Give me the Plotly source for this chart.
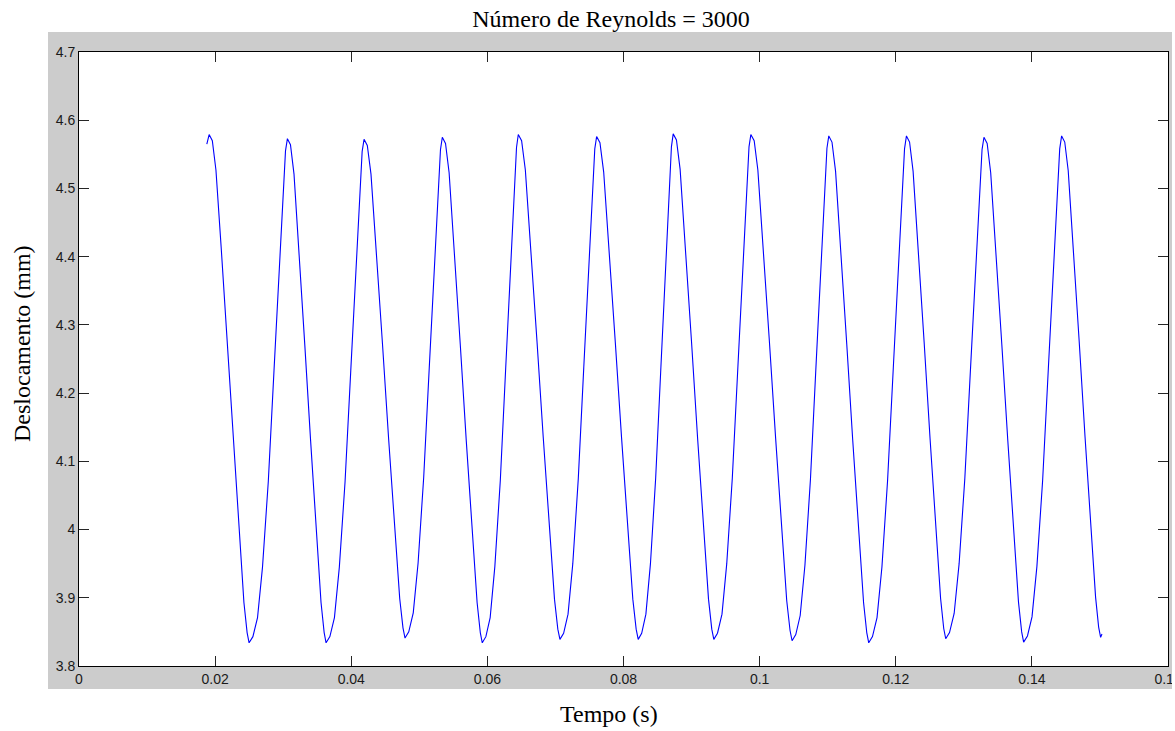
import plotly.graph_objects as go

# Time (s) and displacement (mm)
tempo = [
    0.01878, 0.01912,
    0.01959, 0.02012, 0.02088, 0.02176, 0.02264, 0.02352, 0.02423, 0.02470, 0.02499,
    0.02555, 0.02623, 0.02696, 0.02781, 0.02865, 0.02938, 0.02994, 0.03034, 0.03062,
    0.03107, 0.03159, 0.03232, 0.03318, 0.03403, 0.03488, 0.03556, 0.03602, 0.03630,
    0.03686, 0.03753, 0.03825, 0.03909, 0.03993, 0.04065, 0.04121, 0.04160, 0.04188,
    0.04236, 0.04290, 0.04369, 0.04459, 0.04549, 0.04640, 0.04712, 0.04760, 0.04790,
    0.04845, 0.04911, 0.04982, 0.05064, 0.05146, 0.05217, 0.05272, 0.05311, 0.05338,
    0.05385, 0.05438, 0.05514, 0.05602, 0.05690, 0.05778, 0.05849, 0.05896, 0.05925,
    0.05978, 0.06041, 0.06110, 0.06190, 0.06269, 0.06338, 0.06391, 0.06428, 0.06454,
    0.06503, 0.06558, 0.06638, 0.06729, 0.06821, 0.06913, 0.06986, 0.07035, 0.07066,
    0.07120, 0.07185, 0.07255, 0.07336, 0.07416, 0.07486, 0.07540, 0.07578, 0.07605,
    0.07654, 0.07709, 0.07788, 0.07880, 0.07972, 0.08063, 0.08137, 0.08186, 0.08216,
    0.08267, 0.08329, 0.08396, 0.08473, 0.08550, 0.08617, 0.08668, 0.08704, 0.08730,
    0.08778, 0.08832, 0.08909, 0.08999, 0.09088, 0.09178, 0.09249, 0.09297, 0.09327,
    0.09381, 0.09447, 0.09517, 0.09599, 0.09681, 0.09751, 0.09806, 0.09844, 0.09871,
    0.09920, 0.09974, 0.10053, 0.10144, 0.10235, 0.10326, 0.10398, 0.10447, 0.10477,
    0.10531, 0.10596, 0.10666, 0.10747, 0.10827, 0.10897, 0.10951, 0.10989, 0.11016,
    0.11063, 0.11116, 0.11192, 0.11280, 0.11368, 0.11456, 0.11527, 0.11574, 0.11603,
    0.11658, 0.11725, 0.11797, 0.11880, 0.11963, 0.12035, 0.12091, 0.12129, 0.12157,
    0.12203, 0.12255, 0.12330, 0.12417, 0.12503, 0.12590, 0.12659, 0.12705, 0.12734,
    0.12790, 0.12858, 0.12931, 0.13015, 0.13099, 0.13172, 0.13229, 0.13268, 0.13296,
    0.13343, 0.13395, 0.13471, 0.13558, 0.13646, 0.13733, 0.13803, 0.13850, 0.13879,
    0.13935, 0.14002, 0.14074, 0.14158, 0.14242, 0.14314, 0.14370, 0.14409, 0.14437,
    0.14483, 0.14534, 0.14609, 0.14695, 0.14781, 0.14867, 0.14936, 0.14981, 0.15010,
    0.15030,
]

deslocamento = [
    4.565, 4.579,
    4.570, 4.527, 4.415, 4.274, 4.132, 3.998, 3.893, 3.849, 3.834,
    3.843, 3.871, 3.945, 4.070, 4.233, 4.381, 4.492, 4.555, 4.573,
    4.564, 4.521, 4.410, 4.270, 4.130, 3.997, 3.893, 3.849, 3.834,
    3.843, 3.871, 3.945, 4.070, 4.233, 4.380, 4.491, 4.554, 4.572,
    4.563, 4.521, 4.411, 4.272, 4.133, 4.002, 3.899, 3.856, 3.841,
    3.850, 3.878, 3.951, 4.076, 4.237, 4.384, 4.494, 4.557, 4.575,
    4.566, 4.523, 4.412, 4.271, 4.130, 3.997, 3.893, 3.849, 3.834,
    3.843, 3.871, 3.946, 4.072, 4.236, 4.385, 4.497, 4.560, 4.579,
    4.570, 4.527, 4.416, 4.276, 4.135, 4.002, 3.898, 3.854, 3.839,
    3.848, 3.876, 3.950, 4.075, 4.237, 4.384, 4.495, 4.558, 4.576,
    4.567, 4.524, 4.414, 4.274, 4.134, 4.001, 3.898, 3.854, 3.839,
    3.848, 3.876, 3.950, 4.076, 4.239, 4.387, 4.498, 4.561, 4.580,
    4.571, 4.528, 4.417, 4.276, 4.135, 4.002, 3.898, 3.854, 3.839,
    3.848, 3.876, 3.950, 4.076, 4.239, 4.387, 4.498, 4.561, 4.579,
    4.570, 4.527, 4.416, 4.275, 4.134, 4.000, 3.896, 3.852, 3.837,
    3.846, 3.874, 3.948, 4.074, 4.237, 4.385, 4.496, 4.559, 4.577,
    4.568, 4.525, 4.414, 4.272, 4.131, 3.997, 3.893, 3.849, 3.834,
    3.843, 3.871, 3.945, 4.072, 4.235, 4.384, 4.495, 4.558, 4.577,
    4.568, 4.525, 4.415, 4.275, 4.135, 4.002, 3.899, 3.855, 3.840,
    3.849, 3.877, 3.950, 4.075, 4.237, 4.384, 4.494, 4.557, 4.575,
    4.566, 4.523, 4.412, 4.272, 4.131, 3.998, 3.894, 3.850, 3.835,
    3.844, 3.872, 3.946, 4.072, 4.236, 4.384, 4.495, 4.558, 4.577,
    4.568, 4.526, 4.415, 4.276, 4.136, 4.004, 3.901, 3.857, 3.842,
    3.847,
]

x_ticks = [0, 0.02, 0.04, 0.06, 0.08, 0.1, 0.12, 0.14, 0.16]
x_tick_labels = ["0", "0.02", "0.04", "0.06", "0.08", "0.1", "0.12", "0.14", "0.16"]
y_ticks = [3.8, 3.9, 4.0, 4.1, 4.2, 4.3, 4.4, 4.5, 4.6, 4.7]
y_tick_labels = ["3.8", "3.9", "4", "4.1", "4.2", "4.3", "4.4", "4.5", "4.6", "4.7"]

titulo = "Número de Reynolds = 3000"
rotulo_x = "Tempo (s)"
rotulo_y = "Deslocamento (mm)"

fig = go.Figure()
fig.add_trace(go.Scatter(
    x=tempo, y=deslocamento, mode="lines",
    line=dict(color="#0000FF", width=1.1),
    showlegend=False, hoverinfo="x+y",
))

W, H = 1175, 731
L, R, T, B = 79, 1168, 52, 666
pw, ph = R - L, B - T


def px_x(p):
    return (p - L) / pw


def px_y(p):
    return (B - p) / ph


tick_font = dict(family="Liberation Sans, Arial, sans-serif", size=14, color="#1a1a1a")
axis_common = dict(
    showgrid=False, zeroline=False, showline=True, linecolor="#000000", linewidth=1,
    mirror="ticks", ticks="inside", ticklen=10, tickwidth=1, tickcolor="#262626",
    tickfont=tick_font, ticklabeloverflow="allow", automargin=False,
)

fig.update_layout(
    width=W, height=H,
    margin=dict(l=L, r=W - R, t=T, b=H - B, pad=0, autoexpand=False),
    paper_bgcolor="#FFFFFF", plot_bgcolor="#FFFFFF",
    xaxis=dict(range=[0, 0.16], tickmode="array", tickvals=x_ticks, ticktext=x_tick_labels, **axis_common),
    yaxis=dict(range=[3.8, 4.7], tickmode="array", tickvals=y_ticks, ticktext=y_tick_labels, **axis_common),
    title=dict(text=titulo, x=611 / W, xanchor="center", y=1 - 19 / H, yanchor="middle",
               font=dict(family="Liberation Serif, Times New Roman, serif", size=24, color="#000000")),
    shapes=[
        dict(type="rect", xref="paper", yref="paper", layer="below",
             x0=px_x(48), x1=px_x(1172), y0=px_y(689), y1=px_y(32),
             fillcolor="#CCCCCC", line=dict(width=0)),
        dict(type="rect", xref="paper", yref="paper", layer="below",
             x0=0, x1=1, y0=0, y1=1, fillcolor="#FFFFFF", line=dict(width=0)),
        dict(type="rect", xref="paper", yref="paper", layer="above",
             x0=px_x(1172), x1=px_x(1175), y0=px_y(689), y1=px_y(667),
             fillcolor="#FFFFFF", line=dict(width=0)),
    ],
    annotations=[
        dict(text=rotulo_x, xref="paper", yref="paper", x=px_x(609), y=px_y(714),
             xanchor="center", yanchor="middle", showarrow=False,
             font=dict(family="Liberation Serif, Times New Roman, serif", size=24, color="#000000")),
        dict(text=rotulo_y, xref="paper", yref="paper", x=px_x(22), y=px_y(344),
             xanchor="center", yanchor="middle", showarrow=False, textangle=-90,
             font=dict(family="Liberation Serif, Times New Roman, serif", size=24, color="#000000")),
    ],
)

fig.write_html("out.html")
